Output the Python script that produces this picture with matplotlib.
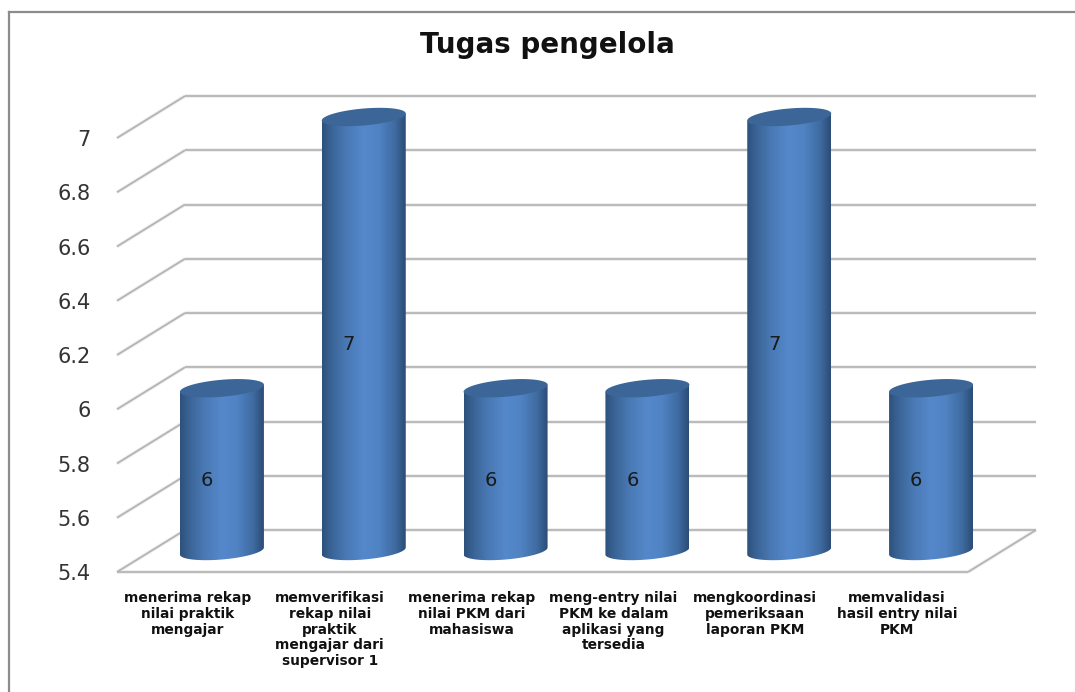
import numpy as np
import matplotlib
matplotlib.use("Agg")
import matplotlib.pyplot as plt
from matplotlib.colors import LinearSegmentedColormap
from matplotlib.lines import Line2D
from matplotlib.path import Path
from matplotlib.patches import PathPatch, Polygon

title = "Tugas pengelola"
categories = [
    "menerima rekap\nnilai praktik\nmengajar",
    "memverifikasi\nrekap nilai\npraktik\nmengajar dari\nsupervisor 1",
    "menerima rekap\nnilai PKM dari\nmahasiswa",
    "meng-entry nilai\nPKM ke dalam\naplikasi yang\ntersedia",
    "mengkoordinasi\npemeriksaan\nlaporan PKM",
    "memvalidasi\nhasil entry nilai\nPKM",
]
values = [6, 7, 6, 6, 7, 6]
y_ticks = [5.4, 5.6, 5.8, 6, 6.2, 6.4, 6.6, 6.8, 7]
y_labels = ["5.4", "5.6", "5.8", "6", "6.2", "6.4", "6.6", "6.8", "7"]

W, H = 1075, 692
fig = plt.figure(figsize=(W / 100, H / 100), dpi=100, facecolor="white")

# front plane of the fake 3d box, pixels measured on the reference
left, right, bottom, top = 117, 968, 572, 138
ax = fig.add_axes([left / W, 1 - bottom / H, (right - left) / W, (bottom - top) / H])
ax.set_xlim(0, len(categories))
ax.set_ylim(y_ticks[0], y_ticks[-1])
for s in ax.spines.values():
    s.set_visible(False)
ax.patch.set_visible(False)

# pixel -> data sizes
ux = len(categories) / (right - left)
uy = (y_ticks[-1] - y_ticks[0]) / (bottom - top)
depth_x, depth_y = 68 * ux, 42 * uy


def grid_line(xs, ys):
    ax.plot(xs, ys, color="#ececec", lw=2.6, clip_on=False, zorder=1, solid_capstyle="butt")
    ax.plot(xs, ys, color="#b2b2b2", lw=1.2, clip_on=False, zorder=1.1, solid_capstyle="butt")


n = len(categories)
y0 = y_ticks[0]
for t in y_ticks:
    grid_line([0, depth_x], [t, t + depth_y])
    grid_line([depth_x, n + depth_x], [t + depth_y, t + depth_y])
# floor
grid_line([0, n], [y0, y0])
grid_line([n, n + depth_x], [y0, y0 + depth_y])

cmap = LinearSegmentedColormap.from_list(
    "cyl",
    [(0, "#2d517c"), (0.12, "#3b6597"), (0.3, "#4a7ab6"), (0.5, "#5588cb"),
     (0.68, "#5083c3"), (0.88, "#3e6a9f"), (1, "#2b4c74")],
)
grad = np.linspace(0, 1, 256).reshape(1, -1)

half_w = 42
semi_h = 8.5
tilt = 3.5
t_low = np.linspace(np.pi, 2 * np.pi, 60)
t_all = np.linspace(0, 2 * np.pi, 120)


def ellipse(cx, cy, t):
    # sheared ellipse so the right side sits a bit higher, like the source
    xs = cx + half_w * np.cos(t) * ux
    ys = cy + (semi_h * np.sin(t) + tilt * np.cos(t)) * uy
    return xs, ys


for i, v in enumerate(values):
    cx = i + 0.5 + depth_x / 2
    base = y0 + depth_y / 2
    head = v + depth_y / 2
    xl, yl = ellipse(cx, base, t_low)
    xt, yt = ellipse(cx, head, t_all)
    verts = [(cx - half_w * ux, head - tilt * uy)] + list(zip(xl, yl)) + [(cx + half_w * ux, head + tilt * uy)]
    verts.append(verts[0])
    codes = [Path.MOVETO] + [Path.LINETO] * (len(verts) - 2) + [Path.CLOSEPOLY]
    body = PathPatch(Path(verts, codes), fc="none", ec="none", transform=ax.transData, clip_on=False)
    ax.add_patch(body)
    im = ax.imshow(grad, cmap=cmap, aspect="auto", interpolation="bilinear", zorder=2,
                   extent=[cx - half_w * ux, cx + half_w * ux, base - (semi_h + tilt) * uy, head + tilt * uy])
    im.set_clip_path(body)
    im.set_clip_box(fig.bbox)  # bars stick out of the front plane
    ax.add_patch(Polygon(np.column_stack([xt, yt]), closed=True, fc="#3b6697", ec="none", zorder=3, clip_on=False))
    ax.text(i + 0.5 + depth_x / 4 + 2 * ux, (v + y0) / 2 + depth_y / 4, str(v), ha="center", va="center",
            fontsize=14, color="#1a1a1a", zorder=4)

ax.set_xlim(0, n)
ax.set_ylim(y_ticks[0], y_ticks[-1])
ax.set_yticks(y_ticks, y_labels, fontsize=15, color="#333333")
ax.set_xticks(np.arange(n) + 0.5, categories, fontsize=9.9, fontweight="bold", color="#111111",
              linespacing=1.14)
ax.tick_params(axis="both", length=0)
ax.tick_params(axis="y", pad=19)
ax.tick_params(axis="x", pad=14)

fig.text(547 / W, 1 - 45 / H, title, ha="center", va="center", fontsize=20, fontweight="bold", color="#111111")

# chart frame, only top and left survive in the crop
fig.add_artist(Line2D([9 / W, 9 / W], [0, 1 - 12 / H], color="#8c8c8c", lw=1.6))
fig.add_artist(Line2D([9 / W, 1], [1 - 12 / H, 1 - 12 / H], color="#8c8c8c", lw=1.6))

fig.savefig("out.png", dpi=100)
